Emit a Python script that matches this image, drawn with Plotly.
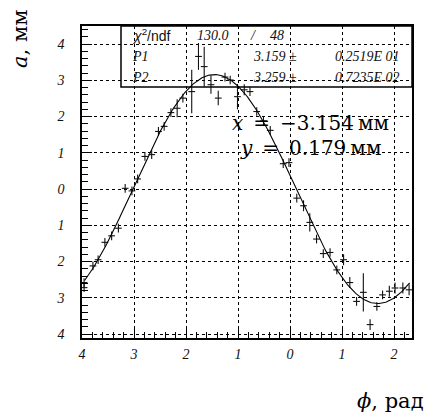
import numpy as np
import plotly.graph_objects as go

# ---- data ----
phi = [-3.96, -3.96, -3.79, -3.69, -3.56, -3.43, -3.30, -3.17, -3.04, -2.93,
       -2.79, -2.66, -2.53, -2.42, -2.29, -2.17, -2.06, -1.89, -1.76, -1.65,
       -1.52, -1.38, -1.25, -1.15, -1.01, -0.88, -0.77, -0.64, -0.51, -0.38,
       -0.13, -0.02, 0.13, 0.26, 0.38, 0.51, 0.64, 0.77, 0.90, 1.03,
       1.15, 1.28, 1.41, 1.54, 1.67, 1.78, 1.91, 2.02, 2.17, 2.29]
a_mm = [-2.58, -2.72, -2.12, -1.95, -1.47, -1.29, -1.08, 0.02, -0.05, 0.28,
        0.90, 0.95, 1.59, 1.73, 2.11, 2.23, 2.51, 2.69, 3.66, 3.38,
        2.88, 2.51, 3.09, 3.01, 2.55, 2.74, 2.69, 2.14, 1.88, 1.62,
        0.70, 0.73, -0.25, -0.46, -0.92, -1.38, -1.78, -1.75, -2.23, -1.95,
        -2.58, -3.10, -2.85, -3.74, -3.24, -2.92, -2.82, -2.73, -2.73, -2.78]
a_err = [0.12, 0.12, 0.12, 0.12, 0.12, 0.12, 0.12, 0.12, 0.12, 0.12,
         0.12, 0.12, 0.12, 0.12, 0.12, 0.25, 0.12, 0.60, 0.37, 0.55,
         0.25, 0.20, 0.12, 0.12, 0.35, 0.15, 0.12, 0.12, 0.12, 0.12,
         0.12, 0.12, 0.12, 0.15, 0.25, 0.12, 0.12, 0.12, 0.12, 0.15,
         0.15, 0.12, 0.53, 0.15, 0.12, 0.12, 0.15, 0.15, 0.15, 0.15]
phi_err = 0.065

# fit parameters (stats box)
chi2, ndf = 130.0, 48
P1, P1_err = 3.159, "0.2519E 01"
P2, P2_err = 3.259, "0.7235E 02"

y_tickvals = [-4, -3, -2, -1, 0, 1, 2, 3, 4]
y_ticktext = ["4", "3", "2", "1", "0", "1", "2", "3", "4"]
x_tickvals = [-4, -3, -2, -1, 0, 1, 2]
x_ticktext = ["4", "3", "2", "1", "0", "1", "2"]

# ---- geometry ----
W, H = 430, 416
L, R, T, B = 82, 412, 26, 338


def px(xp):
    return (xp - L) / (R - L)


def py(yp):
    return (B - yp) / (B - T)


xf = np.linspace(-3.95, 2.30, 300)
yf = P1 * np.sin(xf - P2)

fig = go.Figure()
fig.add_trace(go.Scatter(
    x=phi, y=a_mm, mode="markers",
    marker=dict(size=1, color="rgba(0,0,0,0)"),
    error_x=dict(type="constant", value=phi_err, color="#111", thickness=1.1, width=0),
    error_y=dict(type="data", array=a_err, color="#111", thickness=1.1, width=0),
    showlegend=False, hoverinfo="skip"))
fig.add_trace(go.Scatter(x=xf, y=yf, mode="lines",
                         line=dict(color="black", width=1.1),
                         showlegend=False, hoverinfo="skip"))

tickfont = dict(family="Liberation Serif", size=14, color="#111", style="italic")
common = dict(ticks="inside", ticklen=10, tickcolor="black",
              minor=dict(ticks="inside", ticklen=6, dtick=0.2, tick0=0, tickcolor="black", showgrid=False),
              showgrid=True, gridcolor="black", griddash="dot", gridwidth=1,
              zeroline=False, showline=True, mirror=True, linecolor="black", linewidth=1.5,
              tickfont=tickfont)
fig.update_xaxes(range=[-4, 2.346], tickvals=x_tickvals, ticktext=x_ticktext,
                 ticklabelstandoff=2, **common)
fig.update_yaxes(range=[-4.11, 4.5], tickvals=y_tickvals, ticktext=y_ticktext,
                 ticklabelstandoff=13, **common)

ann = []
sf = dict(family="Liberation Serif", size=14, color="#111")
# stats box rows
ann.append(dict(x=px(130), y=py(35), text="<i>χ</i><sup>2</sup>/ndf",
                xanchor="left", font=dict(family="Liberation Sans", size=14, color="#111")))
ann.append(dict(x=px(231), y=py(35), text=f"<i>{chi2:.1f}</i>", xanchor="right", font=sf))
ann.append(dict(x=px(253), y=py(35), text="<i>/</i>", xanchor="center", font=sf))
ann.append(dict(x=px(286), y=py(35), text=f"<i>{ndf}</i>", xanchor="right", font=sf))
ann.append(dict(x=px(130), y=py(57), text="<i>P1</i>", xanchor="left", font=sf))
ann.append(dict(x=px(299), y=py(57), text=f"<i>{P1:.3f}</i> ±", xanchor="right", font=sf))
ann.append(dict(x=px(402), y=py(57), text=f"<i>{P1_err}</i>", xanchor="right", font=sf))
ann.append(dict(x=px(130), y=py(78), text="<i>P2</i>", xanchor="left", font=sf))
ann.append(dict(x=px(299), y=py(78), text=f"<i>{P2:.3f}</i> ±", xanchor="right", font=sf))
ann.append(dict(x=px(402), y=py(78), text=f"<i>{P2_err}</i>", xanchor="right", font=sf))

bf = dict(family="DejaVu Serif", size=20, color="black")
ann.append(dict(x=px(310), y=py(123), text="<i>x</i>\u2002=\u2002−3.154\u2009мм", xanchor="center", font=bf))
ann.append(dict(x=px(310), y=py(148), text="<i>y</i>\u2002=\u20020.179\u2009мм", xanchor="center", font=bf))
ann.append(dict(x=px(20), y=py(39), text="<i>a</i>, мм", textangle=-90, xanchor="center", yanchor="middle",
                font=dict(family="DejaVu Serif", size=21, color="black")))
ann.append(dict(x=px(426), y=py(401), text="<i>ϕ</i>, рад", xanchor="right", yanchor="middle",
                font=dict(family="DejaVu Serif", size=21, color="black")))
for a in ann:
    a.update(xref="paper", yref="paper", showarrow=False)
    a.setdefault("yanchor", "middle")

fig.update_layout(
    width=W, height=H,
    margin=dict(l=L, r=W - R, t=T, b=H - B),
    paper_bgcolor="white", plot_bgcolor="white",
    annotations=ann,
    shapes=[dict(type="rect", xref="paper", yref="paper", x0=px(121), x1=px(412), y0=py(87), y1=py(26),
                 line=dict(color="black", width=1.5))],
)
fig.write_html("out.html")
